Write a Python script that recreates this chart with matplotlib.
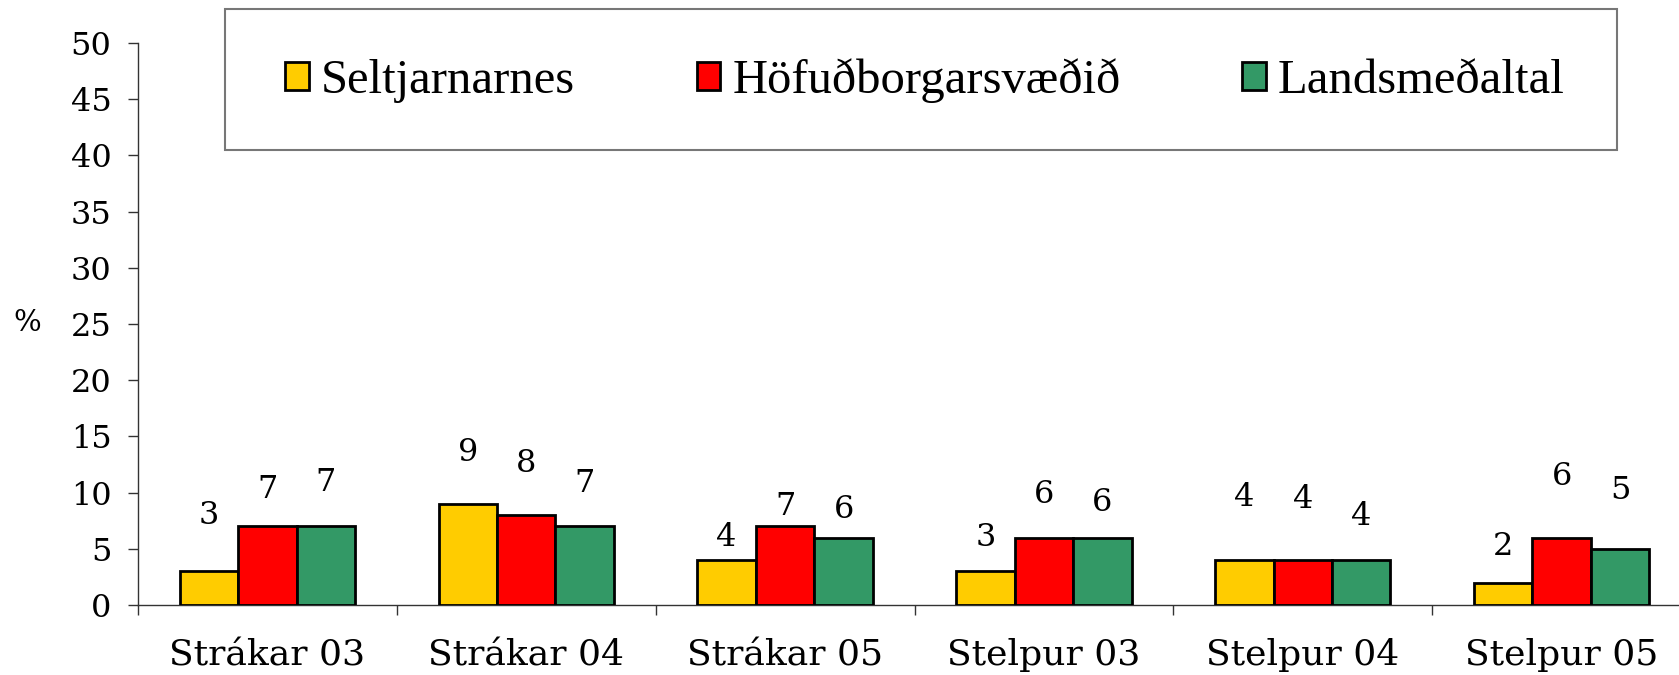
import matplotlib.pyplot as plt
from matplotlib.patches import Rectangle
import numpy as np

# categories and series (percent)
groups = ["Strákar 03", "Strákar 04", "Strákar 05", "Stelpur 03", "Stelpur 04", "Stelpur 05"]
seltjarnarnes = [3, 9, 4, 3, 4, 2]
hofudborg = [7, 8, 7, 6, 4, 6]
landsmedaltal = [7, 7, 6, 6, 4, 5]
series_names = ["Seltjarnarnes", "Höfuðborgarsvæðið", "Landsmeðaltal"]
yticks = [0, 5, 10, 15, 20, 25, 30, 35, 40, 45, 50]

colors = ["#FFCC00", "#FF0000", "#339966"]
# how far each value label sits above its bar (in % units)
label_lift = [
    [5.0, 4.6, 2.0, 3.0, 5.6, 3.2],
    [3.3, 4.6, 1.8, 3.8, 5.4, 5.4],
    [3.9, 3.8, 2.5, 3.1, 3.9, 5.2],
]

tick_font = "DejaVu Serif"
legend_font = "Liberation Serif"

W, H = 1679, 675
fig = plt.figure(figsize=(W / 100, H / 100), dpi=100)
ax = fig.add_axes([138 / W, (H - 605) / H, (1691 - 138) / W, (605 - 43) / H])

x = np.arange(len(groups))
bw = 0.226
data = [seltjarnarnes, hofudborg, landsmedaltal]
bars = []
for i, vals in enumerate(data):
    pos = x + (i - 1) * bw
    b = ax.bar(pos, vals, width=bw, color=colors[i], edgecolor="black",
               linewidth=2.0, label=series_names[i], zorder=3)
    bars.append(b)
    for p, v, lift in zip(pos, vals, label_lift[i]):
        ax.text(p, v + lift, f"{v}", ha="center", va="center",
                fontsize=23, family=tick_font)

ax.set_xlim(-0.5, len(groups) - 0.5)
ax.set_ylim(0, 50)
ax.set_yticks(yticks)
ax.set_yticklabels([str(t) for t in yticks], fontsize=23, family=tick_font)
ax.tick_params(axis="y", length=7, width=1, pad=12, color="#333333")

ax.set_xticks(x)
ax.set_xticklabels(groups, fontsize=26, family=tick_font)
ax.set_xticks(np.arange(len(groups) + 1) - 0.5, minor=True)
ax.tick_params(axis="x", which="major", length=0, pad=24)
ax.tick_params(axis="x", which="minor", length=7, width=1, color="#333333")

for side in ["top", "right"]:
    ax.spines[side].set_visible(False)
ax.spines["left"].set_color("#333333")
ax.spines["bottom"].set_color("#333333")
ax.spines["left"].set_linewidth(1)
ax.spines["bottom"].set_linewidth(1)

fig.text(27 / W, 1 - 323 / H, "%", fontsize=21, family=tick_font,
         ha="center", va="center")

# legend box across the top
box = Rectangle((225 / W, 1 - 150 / H), (1617 - 225) / W, (150 - 9) / H,
                transform=fig.transFigure, fill=False, edgecolor="#777777",
                linewidth=1.5)
fig.patches.append(box)
fig.legend(handles=bars, labels=series_names, loc="center",
           bbox_to_anchor=(266 / W, 1 - 162 / H, (1584 - 266) / W, (162 - 0) / H),
           mode="expand", ncol=3, frameon=False,
           prop={"family": legend_font, "size": 35},
           handlelength=0.48, handleheight=0.5, handletextpad=0.25,
           borderaxespad=0)

fig.savefig("out.png", dpi=100)
